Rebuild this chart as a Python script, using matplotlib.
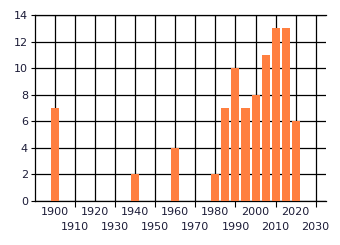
import matplotlib
matplotlib.use("Agg")
import matplotlib.pyplot as plt
from matplotlib.ticker import FixedLocator

years = [1900, 1940, 1960, 1980, 1985, 1990, 1995, 2000, 2005, 2010, 2015, 2020]
counts = [7, 2, 4, 2, 7, 10, 7, 8, 11, 13, 13, 6]
major_years = [1900, 1920, 1940, 1960, 1980, 2000, 2020]
minor_years = [1910, 1930, 1950, 1970, 1990, 2010, 2030]
y_ticks = [0, 2, 4, 6, 8, 10, 12, 14]

text_color = "#1c1c38"
fig = plt.figure(figsize=(3.4, 2.45), dpi=100)
ax = fig.add_axes([35/340, 44/245, (325.7-35)/340, (201-15)/245])

ax.bar(years, counts, width=4, color="#ff7f40", zorder=3)

ax.set_xlim(1890, 2035)
ax.set_ylim(0, 14)
ax.xaxis.set_major_locator(FixedLocator(major_years))
ax.xaxis.set_minor_locator(FixedLocator(minor_years))
ax.set_xticklabels([str(v) for v in major_years])
ax.set_xticklabels([str(v) for v in minor_years], minor=True)
ax.set_yticks(y_ticks)

ax.tick_params(axis="x", which="major", length=0, pad=4, labelsize=8, labelcolor=text_color)
ax.tick_params(axis="x", which="minor", length=4, width=0.8, pad=11, labelsize=8, labelcolor=text_color)
ax.tick_params(axis="y", length=3, width=0.8, pad=2, labelsize=8, labelcolor=text_color)

ax.grid(True, which="both", color="black", linewidth=0.9, zorder=1)
ax.set_axisbelow(True)
for s in ["left", "bottom", "top"]:
    ax.spines[s].set_linewidth(0.9)
ax.spines["right"].set_visible(False)

fig.savefig("out.png", dpi=100)
